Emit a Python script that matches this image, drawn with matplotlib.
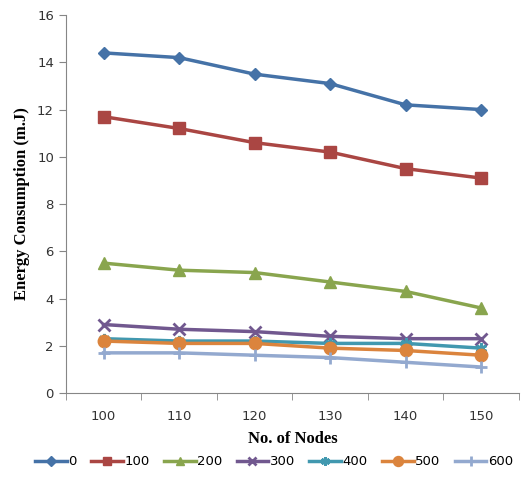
import matplotlib
matplotlib.use("Agg")
import matplotlib.pyplot as plt

nodes = [100, 110, 120, 130, 140, 150]
series_names = ["0", "100", "200", "300", "400", "500", "600"]
e0 = [14.4, 14.2, 13.5, 13.1, 12.2, 12.0]
e100 = [11.7, 11.2, 10.6, 10.2, 9.5, 9.1]
e200 = [5.5, 5.2, 5.1, 4.7, 4.3, 3.6]
e300 = [2.9, 2.7, 2.6, 2.4, 2.3, 2.3]
e400 = [2.3, 2.2, 2.2, 2.1, 2.1, 1.9]
e500 = [2.2, 2.1, 2.1, 1.9, 1.8, 1.6]
e600 = [1.7, 1.7, 1.6, 1.5, 1.3, 1.1]
y_ticks = [0, 2, 4, 6, 8, 10, 12, 14, 16]

values = [e0, e100, e200, e300, e400, e500, e600]
colors = ["#4572A7", "#AA4643", "#89A54E", "#71588F", "#4198AF", "#DB843D", "#93A9CF"]
markers = ["D", "s", "^", "x", (6, 2, 0), "o", "+"]
msizes = [6, 8, 8, 8, 8, 9, 9]

fig = plt.figure(figsize=(5.22, 4.87), dpi=100)
ax = fig.add_axes([0.126, 0.193, 0.868, 0.776])

pos = list(range(len(nodes)))
for name, vals, c, m, ms in zip(series_names, values, colors, markers, msizes):
    ax.plot(pos, vals, color=c, marker=m, markersize=ms, linewidth=2.5,
            markeredgewidth=2 if m in ("x", "+") or isinstance(m, tuple) else 1,
            markeredgecolor=c, label=name)

ax.set_xlim(-0.5, len(nodes) - 0.5)
ax.set_ylim(0, 16)
ax.set_yticks(y_ticks)
ax.set_xticks(pos)
ax.set_xticklabels([str(n) for n in nodes])
ax.set_xticks([p - 0.5 for p in pos] + [len(nodes) - 0.5], minor=True)
ax.tick_params(axis="x", which="major", length=0, pad=12)
ax.tick_params(axis="x", which="minor", length=5, color="#868686")
ax.tick_params(axis="y", length=5, color="#868686")
for lbl in ax.get_xticklabels() + ax.get_yticklabels():
    lbl.set_fontsize(9.5)
    lbl.set_color("#333333")

for s in ["top", "right"]:
    ax.spines[s].set_visible(False)
for s in ["left", "bottom"]:
    ax.spines[s].set_color("#868686")

ax.set_xlabel("No. of Nodes", fontsize=12, fontweight="bold", family="Liberation Serif", labelpad=6)
ax.set_ylabel("Energy Consumption (m.J)", fontsize=12, fontweight="bold", family="Liberation Serif", labelpad=5)

handles, labels = ax.get_legend_handles_labels()
fig.legend(handles, labels, loc="center", bbox_to_anchor=(0.525, 0.052), ncol=7,
           frameon=False, fontsize=9.5, handlelength=2.4, handletextpad=0.1,
           columnspacing=1.1, markerscale=0.8)

fig.savefig("out.png", dpi=100)
